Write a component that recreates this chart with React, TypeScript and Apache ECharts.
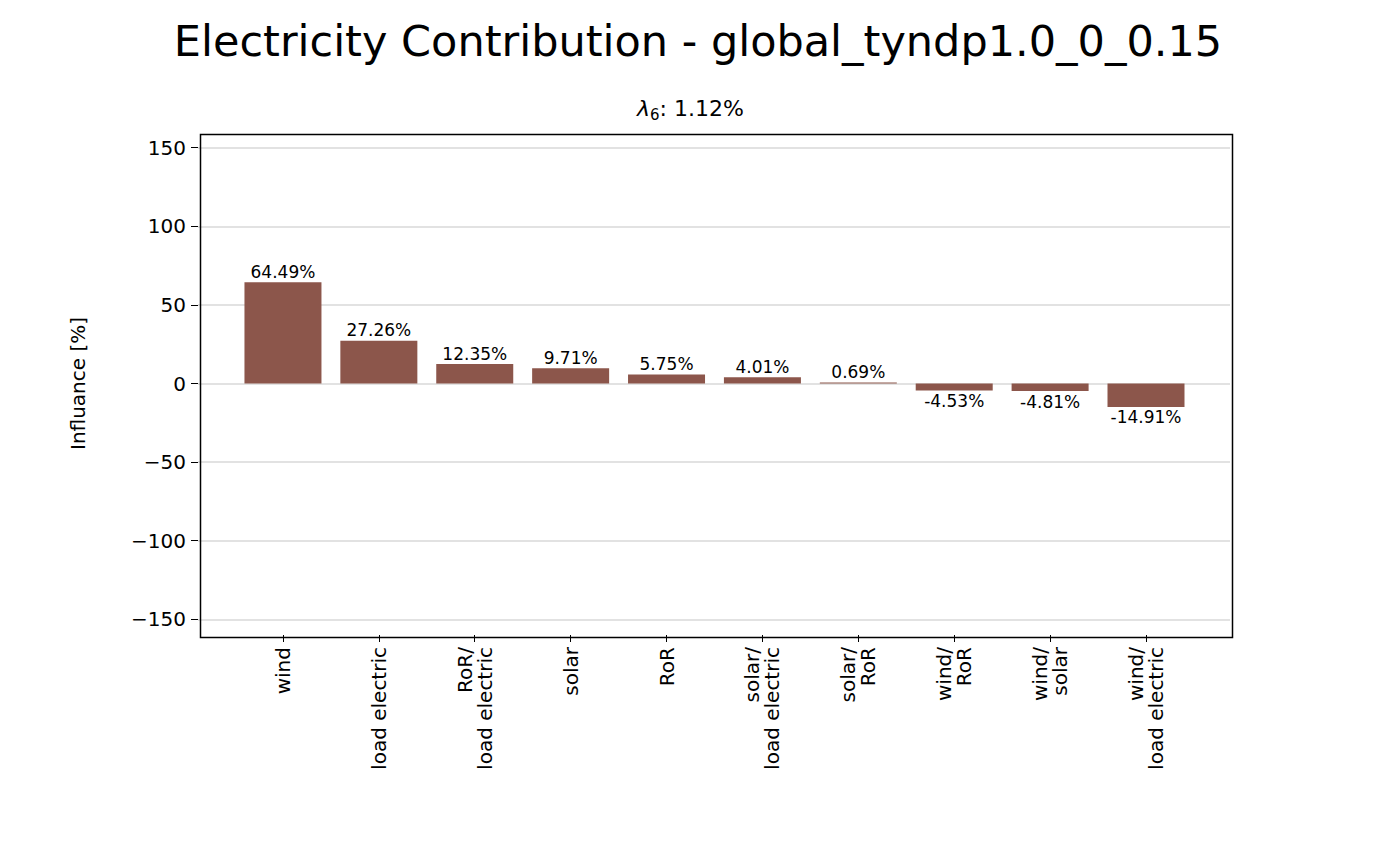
import React, { useEffect, useRef } from "react";
import * as echarts from "echarts";

const categories = ["wind", "load electric", "RoR/\nload electric", "solar", "RoR", "solar/\nload electric", "solar/\nRoR", "wind/\nRoR", "wind/\nsolar", "wind/\nload electric"];
const values = [64.49, 27.26, 12.35, 9.71, 5.75, 4.01, 0.69, -4.53, -4.81, -14.91];
const yTicks = [-150, -100, -50, 0, 50, 100, 150];

export default function App() {
  const ref = useRef<HTMLDivElement>(null);
  useEffect(() => {
    const chart = echarts.init(ref.current!, null, { renderer: "svg" });
    const font = "DejaVu Sans";
    chart.setOption({
      animation: false,
      textStyle: { fontFamily: font },
      title: [
        { text: "Electricity Contribution - global_tyndp1.0_0_0.15", left: "center", top: 14, textStyle: { fontFamily: font, fontSize: 43, fontWeight: "normal", color: "#000" } },
        {
          text: "{l|λ}{s|6}{n|: 1.12%}", left: 632, top: 90,
          textStyle: { fontWeight: "normal", rich: { l: { fontFamily: font, fontSize: 22, fontStyle: "italic", fontWeight: "normal", color: "#000" }, s: { fontFamily: font, fontSize: 15, fontWeight: "normal", color: "#000", verticalAlign: "bottom", padding: [12, 0, 0, 0] }, n: { fontFamily: font, fontSize: 22, fontWeight: "normal", color: "#000" } } },
        },
      ],
      grid: { left: 198, right: 166, top: 132, bottom: 211 },
      xAxis: {
        type: "value", min: -0.886, max: 9.876,
        splitLine: { show: false },
        axisLine: { show: false, onZero: false },
        axisTick: { show: true, customValues: categories.map((_, i) => i), length: 7, lineStyle: { color: "#000" } },
        axisLabel: { customValues: categories.map((_, i) => i), rotate: 90, fontSize: 20, color: "#000", fontFamily: font, margin: 12, align: "right", verticalAlign: "middle", formatter: (v: number) => categories[Math.round(v)] ?? "" },
      },
      yAxis: {
        type: "value", min: -160, max: 160,
        name: "Influance [%]", nameLocation: "middle", nameGap: 110, nameTextStyle: { fontSize: 20, color: "#000", fontFamily: font },
        splitLine: { show: false },
        axisLine: { show: false, onZero: false },
        axisTick: { show: true, customValues: yTicks, length: 7, lineStyle: { color: "#000" } },
        axisLabel: { customValues: yTicks, fontSize: 20, color: "#000", fontFamily: font, margin: 12, formatter: (v: number) => String(v).replace("-", "\u2212") },
      },
      series: [
        {
          type: "bar", barWidth: 77,
          data: values.map((v, i) => ({
            value: [i, v],
            label: { show: true, position: v >= 0 ? "top" : "bottom", distance: 2, formatter: v.toFixed(2) + "%", fontSize: 17, color: "#000", fontFamily: font },
          })),
          itemStyle: { color: "#8c564b" },
          z: 3,
          markLine: {
            silent: true, symbol: "none", label: { show: false },
            lineStyle: { color: "#d9d9d9", type: "solid", width: 1.5 },
            data: yTicks.map((t) => ({ yAxis: t })),
            z: 1,
          },
        },
      ],
      graphic: [
        { type: "rect", left: 198, top: 132, shape: { width: 1032, height: 503 }, style: { fill: "none", stroke: "#000", lineWidth: 1.5 }, z: 10 },
      ],
    });
    return () => chart.dispose();
  }, []);
  return <div ref={ref} style={{ position: "absolute", left: 0, top: 0, width: 1396, height: 846 }} />;
}
